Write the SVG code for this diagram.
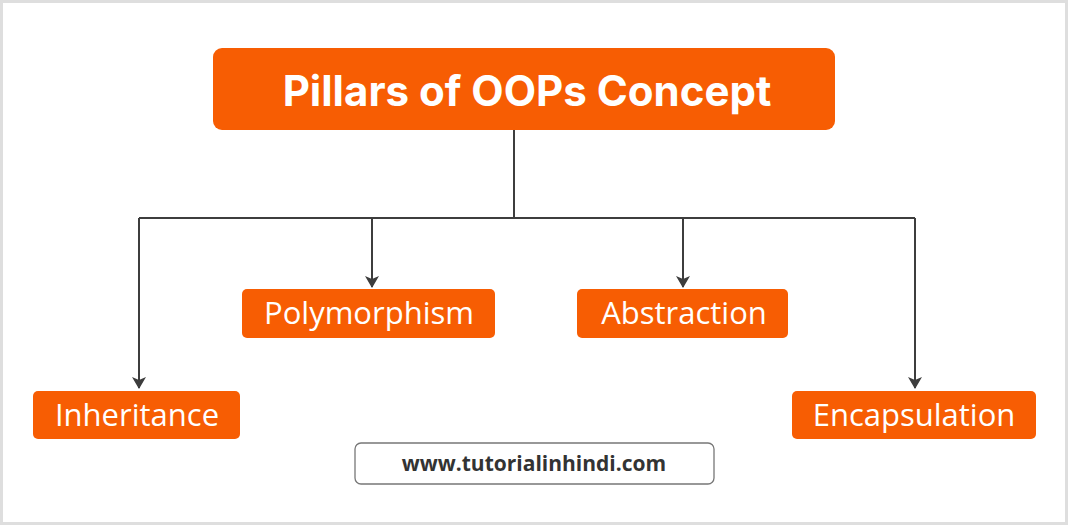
<svg xmlns="http://www.w3.org/2000/svg" width="1068" height="525" viewBox="0 0 1068 525">
<defs>
<style>
.box{fill:#f75d03}
.lbl{fill:#fff;font-family:"Open Sans",sans-serif;font-size:31px;text-anchor:middle}
.ln{stroke:#3d3d3d;stroke-width:2;fill:none}
</style>
<marker id="ah" viewBox="0 0 10 10" refX="9" refY="5" markerWidth="7" markerHeight="7" markerUnits="userSpaceOnUse" orient="auto"><path d="M0,0 L10,5 L0,10 L3,5 z" fill="#3d3d3d"/></marker>
<marker id="a" viewBox="0 0 12 14" refX="11" refY="7" markerWidth="12" markerHeight="14" markerUnits="userSpaceOnUse" orient="auto"><path d="M0,0 L12,7 L0,14 L3,7 z" fill="#3d3d3d"/></marker>
</defs>
<rect x="0" y="0" width="1068" height="525" fill="#fff"/>
<rect x="1.5" y="1.5" width="1065" height="522" fill="none" stroke="#dedede" stroke-width="3"/>
<g id="connectors">
<path class="ln" d="M514,130 V218"/>
<path class="ln" d="M139,218 H915"/>
<path class="ln" d="M139,218 V388" marker-end="url(#a)"/>
<path class="ln" d="M372,218 V287" marker-end="url(#a)"/>
<path class="ln" d="M683,218 V287" marker-end="url(#a)"/>
<path class="ln" d="M915,218 V388" marker-end="url(#a)"/>
</g>
<g id="title"><rect class="box" x="213" y="48" width="622" height="82" rx="9"/>
<text x="527" y="106" fill="#fff" font-family="Inter,Roboto,sans-serif" font-weight="bold" font-size="42" text-anchor="middle">Pillars of OOPs Concept</text></g>
<g id="polymorphism"><rect class="box" x="242" y="289" width="253" height="49" rx="5"/><text class="lbl" x="369" y="324">Polymorphism</text></g>
<g id="abstraction"><rect class="box" x="577" y="289" width="211" height="49" rx="5"/><text class="lbl" x="684" y="324">Abstraction</text></g>
<g id="inheritance"><rect class="box" x="33" y="391" width="207" height="48" rx="5"/><text class="lbl" x="137" y="426">Inheritance</text></g>
<g id="encapsulation"><rect class="box" x="792" y="391" width="244" height="48" rx="5"/><text class="lbl" x="914" y="426">Encapsulation</text></g>
<g id="url"><rect x="355" y="443" width="359" height="41" rx="6" fill="#fff" stroke="#777" stroke-width="1.3"/>
<text x="534" y="471" fill="#333" font-family="'Open Sans',sans-serif" font-weight="bold" font-size="21" text-anchor="middle">www.tutorialinhindi.com</text></g>
</svg>
